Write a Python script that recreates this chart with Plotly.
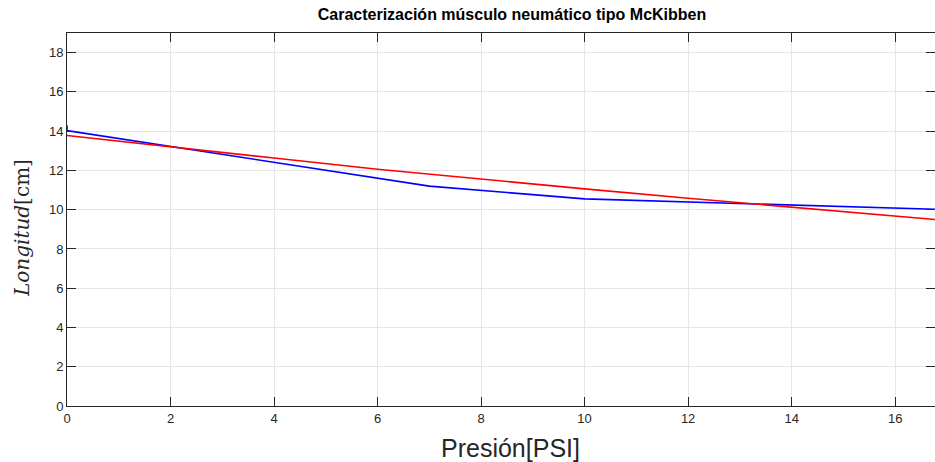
import plotly.graph_objects as go

# Measured data (blue)
presion_medida = [0, 0, 7, 10, 16.77]
longitud_medida = [14.3, 14.03, 11.2, 10.55, 10.02]

# Fitted curve (red)
presion_ajuste = [0, 2, 4, 6, 8, 10, 12, 14, 16, 16.77]
longitud_ajuste = [13.78, 13.19, 12.63, 12.06, 11.55, 11.06, 10.58, 10.12, 9.67, 9.50]

x_ticks = [0, 2, 4, 6, 8, 10, 12, 14, 16]
y_ticks = [0, 2, 4, 6, 8, 10, 12, 14, 16, 18]

fig = go.Figure()
fig.add_trace(go.Scatter(x=presion_medida, y=longitud_medida, mode="lines",
                         line=dict(color="#0000ff", width=1.6), showlegend=False))
fig.add_trace(go.Scatter(x=presion_ajuste, y=longitud_ajuste, mode="lines",
                         line=dict(color="#ff0000", width=1.6), showlegend=False))

axis_common = dict(
    showline=True, linecolor="#262626", linewidth=1,
    mirror="ticks", ticks="inside", ticklen=9, tickcolor="#262626",
    showgrid=True, gridcolor="#e6e6e6", gridwidth=1,
    zeroline=False,
    tickfont=dict(family="Liberation Sans, Arial, sans-serif", size=13, color="#262626"),
)

fig.update_layout(
    width=935, height=462,
    margin=dict(l=67, r=0, t=33, b=56),
    paper_bgcolor="white", plot_bgcolor="white",
    xaxis=dict(range=[0, 16.77], tickvals=x_ticks, **axis_common),
    yaxis=dict(range=[0, 19], tickvals=y_ticks, **axis_common),
    title=dict(text="<b>Caracterización músculo neumático tipo McKibben</b>",
               x=512 / 935, xanchor="center", y=1 - 14 / 462, yanchor="middle",
               font=dict(family="Liberation Sans, Arial, sans-serif", size=16, color="black")),
    annotations=[
        dict(text="Presión[PSI]", xref="paper", yref="paper",
             x=(510 - 67) / 868, y=-(432 - 406) / 373, xanchor="center", yanchor="top",
             showarrow=False,
             font=dict(family="Liberation Sans, Arial, sans-serif", size=25, color="#262626")),
        dict(text="<i>Longitud</i>[cm]", xref="paper", yref="paper",
             x=-(67 - 22) / 868, y=(406 - 228) / 373, xanchor="center", yanchor="middle",
             textangle=-90, showarrow=False,
             font=dict(family="DejaVu Serif, Liberation Serif, serif", size=20, color="#262626")),
    ],
)

fig.write_html("out.html")
